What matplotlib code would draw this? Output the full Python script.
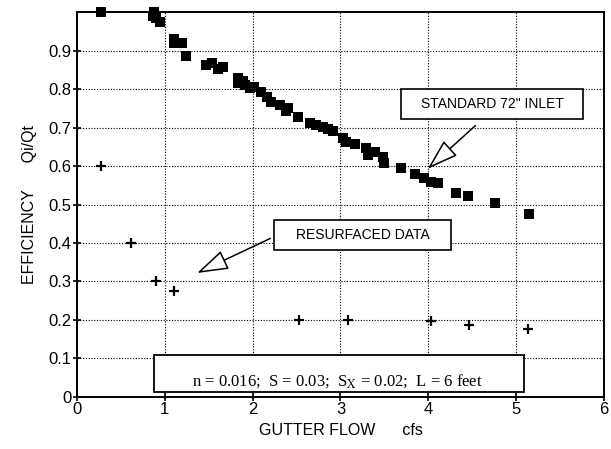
import matplotlib.pyplot as plt
from matplotlib.patches import Rectangle

# ==========================================
# 1) data (read off the scanned figure)
# ==========================================
std_flow = [0.27, 0.86, 0.88, 0.90, 0.94, 1.10, 1.11, 1.20, 1.24, 1.47,
            1.54, 1.61, 1.66, 1.83, 1.83, 1.89, 1.91, 1.97, 2.02, 2.10,
            2.16, 2.21, 2.31, 2.38, 2.40, 2.52, 2.65, 2.72, 2.80, 2.86,
            2.92, 3.03, 3.06, 3.16, 3.29, 3.31, 3.39, 3.48, 3.50, 3.69,
            3.85, 3.95, 4.03, 4.11, 4.31, 4.45, 4.76, 5.15]
std_eff = [1.00, 0.99, 1.00, 0.985, 0.975, 0.92, 0.93, 0.92, 0.885, 0.862,
           0.868, 0.853, 0.858, 0.828, 0.815, 0.82, 0.81, 0.804, 0.806, 0.793,
           0.78, 0.767, 0.758, 0.744, 0.75, 0.728, 0.711, 0.706, 0.702, 0.696,
           0.692, 0.674, 0.663, 0.657, 0.646, 0.629, 0.637, 0.624, 0.607, 0.594,
           0.579, 0.568, 0.559, 0.555, 0.531, 0.522, 0.503, 0.475]

res_flow = [0.27, 0.62, 0.90, 1.11, 2.53, 3.09, 4.03, 4.46, 5.14]
res_eff = [0.60, 0.40, 0.30, 0.274, 0.199, 0.199, 0.197, 0.186, 0.177]

x_ticks = [0, 1, 2, 3, 4, 5, 6]
y_ticks = [0, 0.1, 0.2, 0.3, 0.4, 0.5, 0.6, 0.7, 0.8, 0.9]
y_tick_labels = ["0", "0.1", "0.2", "0.3", "0.4", "0.5", "0.6", "0.7", "0.8", "0.9"]

# ==========================================
# 2) figure
# ==========================================
plt.rcParams["font.family"] = ["Liberation Sans", "DejaVu Sans"]
plt.rcParams["mathtext.fontset"] = "stix"

fig = plt.figure(figsize=(6.11, 4.49), dpi=100)
ax = fig.add_axes([0.126, 0.116, 0.8625, 0.857])

ax.scatter(std_flow, std_eff, marker="s", s=55, color="black",
           linewidths=0, zorder=3, clip_on=False)
ax.scatter(res_flow, res_eff, marker="+", s=45, color="black",
           linewidths=1.6, zorder=3, clip_on=False)

ax.set_xlim(0, 6)
ax.set_ylim(0, 1.0)
ax.set_xticks(x_ticks)
ax.set_yticks(y_ticks)
ax.set_yticklabels(y_tick_labels)
ax.tick_params(axis="both", labelsize=12, direction="inout", length=6,
               width=1.2, colors="black", pad=1)

ax.grid(True, color="black", linestyle=(0, (1, 1.5)), linewidth=0.8)
for sp in ax.spines.values():
    sp.set_linewidth(1.4)

ax.set_xlabel("GUTTER FLOW      cfs", fontsize=11.5, labelpad=4)
ax.set_ylabel("EFFICIENCY      Qi/Qt", fontsize=11.5, labelpad=8)

# ==========================================
# 3) annotation boxes
# ==========================================
ax.add_patch(Rectangle((3.69, 0.723), 2.07, 0.077, fill=True, fc="white",
                       ec="black", lw=1.2, zorder=4))
ax.text(4.73, 0.762, 'STANDARD 72" INLET', fontsize=10, ha="center",
        va="center", zorder=5)
ax.annotate("", xy=(3.97, 0.588), xytext=(4.56, 0.71),
            arrowprops=dict(arrowstyle="-|>,head_length=1.4,head_width=0.45",
                            fc="white", ec="black", lw=1.1, mutation_scale=14),
            zorder=5)

ax.add_patch(Rectangle((2.24, 0.381), 2.02, 0.079, fill=True, fc="white",
                       ec="black", lw=1.2, zorder=4))
ax.text(3.25, 0.42, "RESURFACED DATA", fontsize=10, ha="center",
        va="center", zorder=5)
ax.annotate("", xy=(1.34, 0.319), xytext=(2.23, 0.415),
            arrowprops=dict(arrowstyle="-|>,head_length=1.4,head_width=0.45",
                            fc="white", ec="black", lw=1.1, mutation_scale=14),
            zorder=5)

ax.add_patch(Rectangle((0.875, 0.013), 4.215, 0.097, fill=True, fc="white",
                       ec="black", lw=1.3, zorder=4))
ax.text(2.97, 0.041, r"n = 0.016;  S = 0.03;  S$_\mathrm{X}$ = 0.02;  L = 6 feet",
        fontsize=12, family=["Liberation Serif", "DejaVu Serif"],
        ha="center", va="center", zorder=5)

plt.savefig("out.png", dpi=100)
